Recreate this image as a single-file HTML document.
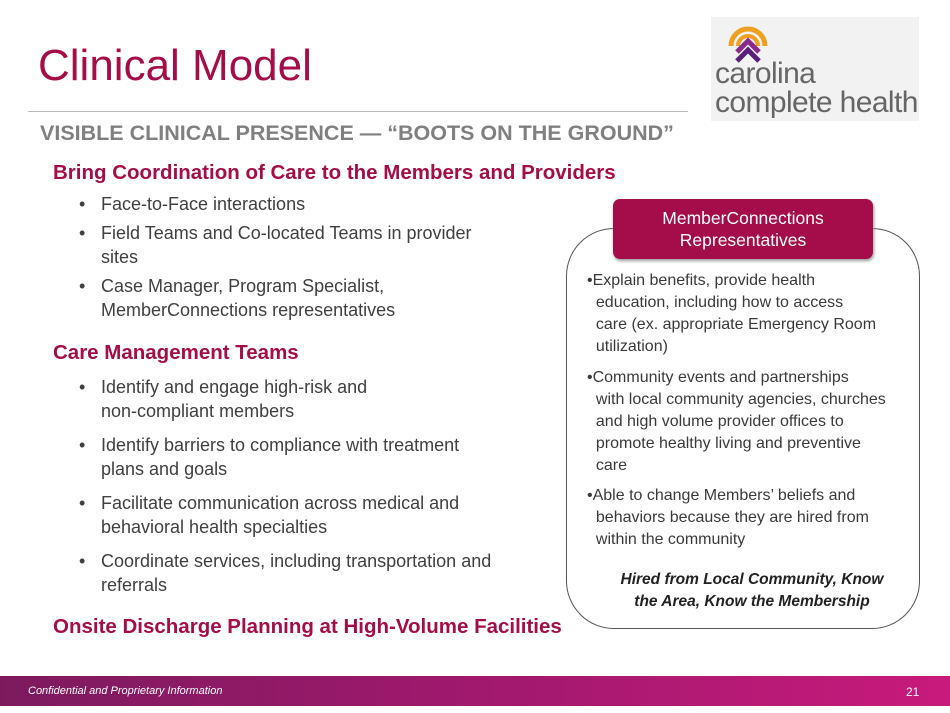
<!DOCTYPE html>
<html><head><meta charset="utf-8"><style>
body{margin:0;width:950px;height:713px;background:#fff;position:relative;overflow:hidden;font-family:"Liberation Sans",sans-serif;}
.a{position:absolute;white-space:nowrap;}
.h{color:#a50d48;font-weight:bold;font-size:20.5px;}
.b{color:#404040;font-size:18px;line-height:24px;}
.b li{list-style:none;position:relative;}
.b li:before{content:"•";position:absolute;left:-22px;}
.t{color:#3a3a3a;font-size:16px;line-height:22px;}
</style></head><body>
<div class="a" style="left:38px;top:41px;font-size:44px;color:#a50d48;">Clinical Model</div>
<div class="a" style="left:28px;top:111px;width:660px;height:1px;background:#bbb;"></div>
<div class="a" style="left:40px;top:121px;font-size:21.5px;font-weight:bold;color:#808080;">VISIBLE CLINICAL PRESENCE — “BOOTS ON THE GROUND”</div>
<div class="a h" style="left:53px;top:161px;">Bring Coordination of Care to the Members and Providers</div>
<div class="a b" style="left:101px;top:192px;">
<ul style="margin:0;padding:0;">
<li style="margin-bottom:5px">Face-to-Face interactions</li>
<li style="margin-bottom:5px">Field Teams and Co-located Teams in provider<br>sites</li>
<li>Case Manager, Program Specialist,<br>MemberConnections representatives</li></ul></div>
<div class="a h" style="left:53px;top:341px;">Care Management Teams</div>
<div class="a b" style="left:101px;top:375px;">
<ul style="margin:0;padding:0;">
<li style="margin-bottom:10px">Identify and engage high-risk and<br>non-compliant members</li>
<li style="margin-bottom:10px">Identify barriers to compliance with treatment<br>plans and goals</li>
<li style="margin-bottom:10px">Facilitate communication across medical and<br>behavioral health specialties</li>
<li>Coordinate services, including transportation and<br>referrals</li></ul></div>
<div class="a h" style="left:53px;top:615px;">Onsite Discharge Planning at High-Volume Facilities</div>

<div class="a" style="left:566px;top:228px;width:354px;height:401px;border:1px solid #555;border-radius:48px;box-sizing:border-box;"></div>
<div class="a" style="left:613px;top:199px;width:260px;height:60px;background:#a50d48;border-radius:7px;box-shadow:1px 2px 3px #999;color:#fff;font-size:17.5px;text-align:center;line-height:22px;padding-top:8px;box-sizing:border-box;">MemberConnections<br>Representatives</div>
<div class="a t" style="left:587px;top:270px;">•Explain benefits, provide health<br>&nbsp;&nbsp;education, including how to access<br>&nbsp;&nbsp;care (ex. appropriate Emergency Room<br>&nbsp;&nbsp;utilization)</div>
<div class="a t" style="left:587px;top:367px;">•Community events and partnerships<br>&nbsp;&nbsp;with local community agencies, churches<br>&nbsp;&nbsp;and high volume provider offices to<br>&nbsp;&nbsp;promote healthy living and preventive<br>&nbsp;&nbsp;care</div>
<div class="a t" style="left:587px;top:485px;">•Able to change Members’ beliefs and<br>&nbsp;&nbsp;behaviors because they are hired from<br>&nbsp;&nbsp;within the community</div>
<div class="a" style="left:597px;top:569px;width:310px;text-align:center;font-size:15.5px;font-weight:bold;font-style:italic;color:#222;line-height:22px;">Hired from Local Community, Know<br>the Area, Know the Membership</div>

<div class="a" style="left:711px;top:17px;width:208px;height:104px;background:#f2f2f2;"></div>
<svg class="a" style="left:723px;top:16px" width="50" height="48" viewBox="0 0 50 48">
<path d="M8 30 A17 17 0 1 1 42 30" fill="none" stroke="#f0a020" stroke-width="5"/>
<path d="M15 30 A10 10 0 1 1 35 30" fill="none" stroke="#f0a020" stroke-width="4"/>
<path d="M14 36 L25 25 L36 36" fill="none" stroke="#8a2b8a" stroke-width="5"/>
<path d="M14 45 L25 34 L36 45" fill="none" stroke="#5a1f7a" stroke-width="5"/>
</svg>
<div class="a" style="left:715px;top:59px;font-size:30px;color:#666;letter-spacing:-0.6px;line-height:29px;">carolina<br>complete health</div>

<div class="a" style="left:0;top:676px;width:950px;height:30px;background:linear-gradient(90deg,#7d1a5e,#a0196e 50%,#c81a7c);"></div>
<div class="a" style="left:28px;top:685px;font-size:11px;font-style:italic;color:#fff;">Confidential and Proprietary Information</div>
<div class="a" style="left:906px;top:685px;font-size:12px;color:#fff;">21</div>
</body></html>
